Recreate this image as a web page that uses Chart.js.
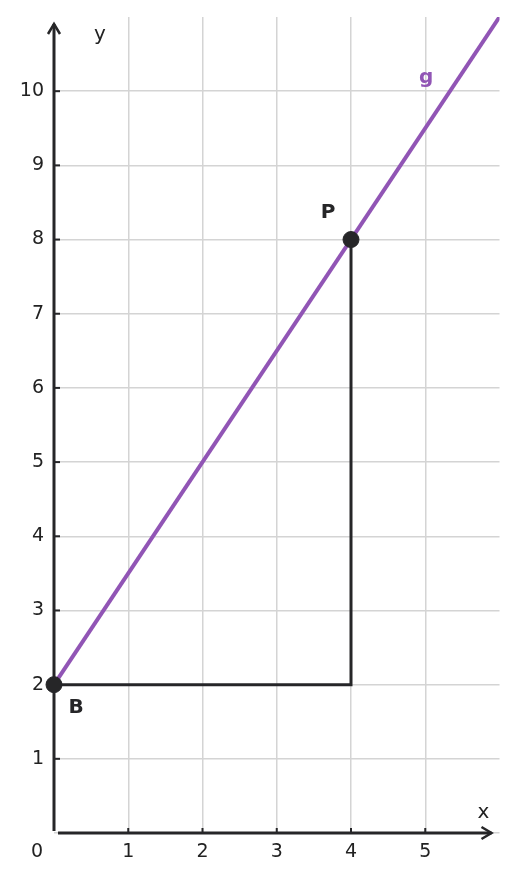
<!DOCTYPE html>
<html>
<head>
<meta charset="utf-8">
<script src="https://cdn.jsdelivr.net/npm/chart.js@4"></script>
<style>
html,body{margin:0;padding:0;background:#fff;}
#wrap{width:516px;height:881px;position:relative;}
</style>
</head>
<body>
<div id="wrap"><canvas id="c" width="516" height="881"></canvas></div>
<script>
// Data
const lineG = [{x:0, y:2}, {x:6, y:11}];
const pathBP = [{x:0, y:2}, {x:4, y:2}, {x:4, y:8}];
const points = [{x:0, y:2, label:'B'}, {x:4, y:8, label:'P'}];
const xTicks = [1, 2, 3, 4, 5];
const yTicks = [1, 2, 3, 4, 5, 6, 7, 8, 9, 10];
const xRange = [0, 6];
const yRange = [0, 11];

const DARK = '#262628';
const PURPLE = '#9155b5';
const GRID = '#d4d4d4';
const FONT = '"DejaVu Sans", sans-serif';

const axesPlugin = {
  id: 'axesPlugin',
  beforeDatasetsDraw(chart) {
    const ctx = chart.ctx;
    const xs = chart.scales.x, ys = chart.scales.y;
    const x0 = xs.getPixelForValue(0), y0 = ys.getPixelForValue(0);
    const xEnd = xs.getPixelForValue(xRange[1]) - 8;
    const yTop = ys.getPixelForValue(yRange[1]) + 7;
    ctx.save();
    ctx.strokeStyle = DARK;
    ctx.lineWidth = 3;
    ctx.lineCap = 'butt';
    // x axis
    ctx.beginPath();
    ctx.moveTo(x0 + 4, y0);
    ctx.lineTo(xEnd, y0);
    ctx.stroke();
    // y axis
    ctx.beginPath();
    ctx.moveTo(x0, y0 - 2);
    ctx.lineTo(x0, yTop);
    ctx.stroke();
    // arrowheads
    ctx.lineWidth = 2.5;
    ctx.lineJoin = 'miter';
    ctx.beginPath();
    ctx.moveTo(xEnd - 10, y0 - 6);
    ctx.lineTo(xEnd, y0);
    ctx.lineTo(xEnd - 10, y0 + 6);
    ctx.stroke();
    ctx.beginPath();
    ctx.moveTo(x0 - 6, yTop + 10);
    ctx.lineTo(x0, yTop);
    ctx.lineTo(x0 + 6, yTop + 10);
    ctx.stroke();
    // tick marks
    ctx.lineWidth = 2;
    xTicks.forEach(v => {
      const px = xs.getPixelForValue(v);
      ctx.beginPath(); ctx.moveTo(px, y0); ctx.lineTo(px, y0 - 5); ctx.stroke();
    });
    yTicks.forEach(v => {
      const py = ys.getPixelForValue(v);
      ctx.beginPath(); ctx.moveTo(x0, py); ctx.lineTo(x0 + 6, py); ctx.stroke();
    });
    // tick labels
    ctx.fillStyle = '#222';
    ctx.font = '19px ' + FONT;
    ctx.textBaseline = 'middle';
    ctx.textAlign = 'center';
    xTicks.forEach(v => {
      ctx.fillText(String(v), xs.getPixelForValue(v), y0 + 19);
    });
    ctx.fillText('0', x0 - 17, y0 + 19);
    ctx.textAlign = 'right';
    yTicks.forEach(v => {
      ctx.fillText(String(v), x0 - 10, ys.getPixelForValue(v));
    });
    // axis names
    ctx.font = '20px ' + FONT;
    ctx.textAlign = 'center';
    ctx.fillText('x', xs.getPixelForValue(xRange[1]) - 16, y0 - 20);
    ctx.fillText('y', x0 + 46, ys.getPixelForValue(yRange[1]) + 18);
    ctx.restore();
  },
  afterDatasetsDraw(chart) {
    const ctx = chart.ctx;
    const xs = chart.scales.x, ys = chart.scales.y;
    ctx.save();
    ctx.font = 'bold 20px ' + FONT;
    ctx.textAlign = 'center';
    ctx.textBaseline = 'middle';
    ctx.fillStyle = DARK;
    ctx.fillText('B', xs.getPixelForValue(0) + 22, ys.getPixelForValue(2) + 23);
    ctx.fillText('P', xs.getPixelForValue(4) - 23, ys.getPixelForValue(8) - 27);
    ctx.fillStyle = PURPLE;
    ctx.fillText('g', xs.getPixelForValue(5) + 1, ys.getPixelForValue(10) - 13);
    ctx.restore();
  }
};

new Chart(document.getElementById('c'), {
  type: 'scatter',
  data: {
    datasets: [
      { data: points, backgroundColor: DARK, borderColor: DARK, pointRadius: 8, pointHoverRadius: 8, showLine: false, clip: false, order: 0 },
      { data: pathBP, borderColor: DARK, borderWidth: 3, showLine: true, pointRadius: 0, fill: false, clip: false, order: 2 },
      { data: lineG, borderColor: PURPLE, borderWidth: 4, showLine: true, pointRadius: 0, fill: false, order: 1 }
    ]
  },
  options: {
    responsive: false,
    animation: false,
    events: [],
    layout: { padding: { left: 54, top: 17, right: 16.5, bottom: 48 } },
    plugins: { legend: { display: false }, tooltip: { enabled: false } },
    scales: {
      x: {
        type: 'linear', min: xRange[0], max: xRange[1],
        ticks: { display: false, stepSize: 1 },
        border: { display: false },
        grid: { drawTicks: false, lineWidth: 1.5,
          color: c => (c.tick && (c.tick.value === 0 || c.tick.value === xRange[1])) ? 'rgba(0,0,0,0)' : GRID },
        afterFit: s => { s.height = 0; }
      },
      y: {
        type: 'linear', min: yRange[0], max: yRange[1],
        ticks: { display: false, stepSize: 1 },
        border: { display: false },
        grid: { drawTicks: false, lineWidth: 1.5,
          color: c => (c.tick && c.tick.value === yRange[1]) ? 'rgba(0,0,0,0)' : GRID },
        afterFit: s => { s.width = 0; }
      }
    }
  },
  plugins: [axesPlugin]
});
</script>
</body>
</html>
